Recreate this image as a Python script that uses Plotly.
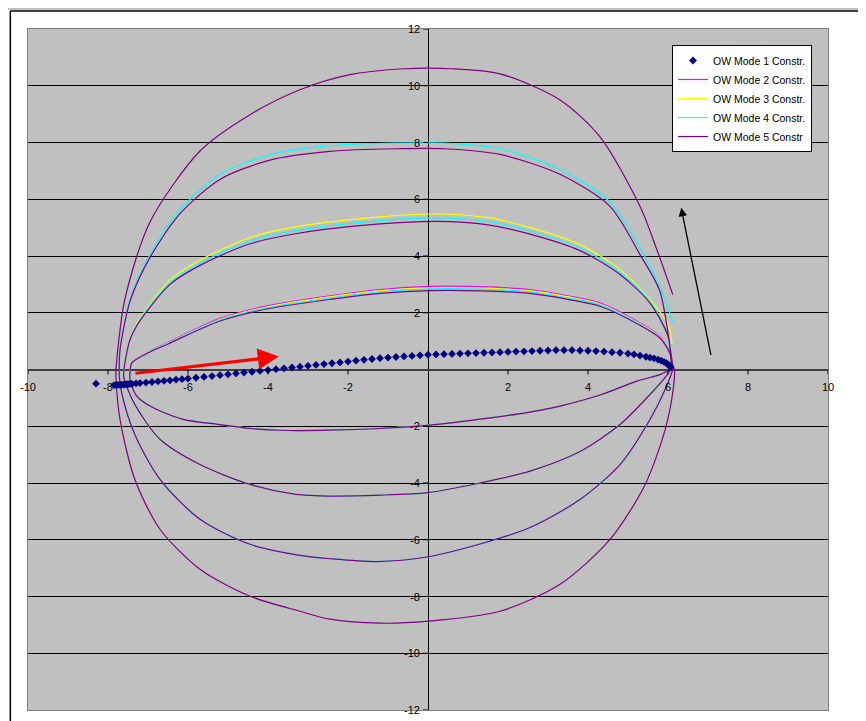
import plotly.graph_objects as go

# ---------------- data ----------------
X_TICKS = [-10, -8, -6, -4, -2, 2, 4, 6, 8, 10]
Y_TICKS = [12, 10, 8, 6, 4, 2, -2, -4, -6, -8, -10, -12]

# Mode 1 (markers)
M1_X = [-8.3, -7.85, -7.8, -7.75, -7.7, -7.65, -7.6, -7.55, -7.5, -7.45, -7.4, -7.3, -7.2,
        -7.05, -6.9, -6.75, -6.6, -6.45, -6.3, -6.15, -6.0, -5.8, -5.6, -5.4, -5.2, -5.0,
        -4.8, -4.6, -4.4, -4.2, -4.0, -3.8, -3.6, -3.4, -3.2, -3.0, -2.8, -2.6, -2.4, -2.2,
        -2.0, -1.8, -1.6, -1.4, -1.2, -1.0, -0.8, -0.6, -0.4, -0.2, 0.0, 0.2, 0.4, 0.6, 0.8,
        1.0, 1.2, 1.4, 1.6, 1.8, 2.0, 2.2, 2.4, 2.6, 2.8, 3.0, 3.2, 3.4, 3.6, 3.8, 4.0, 4.2,
        4.4, 4.6, 4.8, 5.0, 5.15, 5.3, 5.45, 5.55, 5.65, 5.75, 5.83, 5.9, 5.96, 6.0, 6.03,
        6.05, 6.07]
M1_Y = [-0.50, -0.55, -0.55, -0.54, -0.54, -0.53, -0.53, -0.52, -0.52, -0.51, -0.51, -0.49,
        -0.48, -0.46, -0.44, -0.42, -0.40, -0.38, -0.36, -0.34, -0.32, -0.29, -0.26, -0.23,
        -0.20, -0.17, -0.14, -0.11, -0.08, -0.05, -0.02, 0.01, 0.04, 0.07, 0.10, 0.13, 0.16,
        0.19, 0.22, 0.25, 0.28, 0.31, 0.34, 0.37, 0.40, 0.42, 0.44, 0.46, 0.48, 0.50, 0.52,
        0.53, 0.54, 0.55, 0.56, 0.57, 0.58, 0.59, 0.60, 0.61, 0.62, 0.63, 0.64, 0.65, 0.66,
        0.67, 0.68, 0.68, 0.68, 0.67, 0.66, 0.65, 0.63, 0.61, 0.59, 0.56, 0.53, 0.49, 0.45,
        0.42, 0.39, 0.35, 0.31, 0.27, 0.22, 0.18, 0.14, 0.11, 0.08]

# loop 1
BOT1_X = [6.05, 5.8, 5.22, 4.3, 3.3, 2.55, 1.3, 0.0, -1.2, -2.45, -3.5, -4.45, -5.2, -6.12, -6.95, -7.3, -7.45]
BOT1_Y = [0.0, -0.18, -0.41, -0.9, -1.29, -1.5, -1.75, -1.97, -2.08, -2.14, -2.15, -2.08, -1.94, -1.76, -1.29, -0.9, -0.35]
TOP1_X = [-7.45, -7.4, -6.95, -6.5, -5.2, -4.0, -2.45, -1.2, 0.05, 1.3, 2.55, 3.5, 4.3, 5.3, 5.8, 6.05, 6.08]
TOP1_Y_M2 = [-0.1, 0.25, 0.65, 0.95, 1.8, 2.25, 2.6, 2.82, 2.93, 2.92, 2.82, 2.6, 2.35, 1.64, 1.17, 0.59, 0.1]
TOP1_Y_M3 = [-0.1, 0.25, 0.64, 0.93, 1.77, 2.21, 2.56, 2.77, 2.88, 2.87, 2.77, 2.56, 2.31, 1.61, 1.15, 0.58, 0.05]
TOP1_Y_M4 = [-0.1, 0.24, 0.63, 0.92, 1.75, 2.18, 2.52, 2.74, 2.84, 2.83, 2.74, 2.52, 2.28, 1.59, 1.13, 0.57, 0.05]
TOP1_Y_M5 = [-0.1, 0.24, 0.62, 0.9, 1.71, 2.14, 2.47, 2.68, 2.78, 2.77, 2.68, 2.47, 2.23, 1.56, 1.11, 0.56, 0.05]

# loop 2
BOT2_X = [6.08, 5.93, 5.55, 4.8, 3.8, 2.55, 1.3, 0.0, -1.2, -2.45, -3.3, -4.45, -5.7, -6.7, -7.33, -7.6]
BOT2_Y = [0.05, -0.28, -0.88, -1.94, -2.89, -3.58, -4.0, -4.34, -4.43, -4.46, -4.4, -4.05, -3.35, -2.46, -1.23, -0.3]
TOP2_X = [-7.6, -7.45, -7.2, -6.45, -5.7, -4.45, -3.2, -1.2, 0.2, 1.5, 2.55, 3.8, 4.8, 5.55, 6.0, 6.1]
TOP2_Y_M3 = [0.0, 1.1, 1.8, 3.15, 3.85, 4.65, 5.05, 5.38, 5.48, 5.35, 5.0, 4.4, 3.52, 2.46, 1.6, 0.9]
TOP2_Y_M4 = [0.0, 1.07, 1.76, 3.07, 3.75, 4.53, 4.92, 5.25, 5.34, 5.22, 4.88, 4.29, 3.43, 2.4, 1.2, 0.1]
TOP2_Y_M5 = [0.0, 1.05, 1.72, 3.0, 3.67, 4.43, 4.81, 5.13, 5.22, 5.1, 4.77, 4.19, 3.35, 2.34, 1.17, 0.1]

# loop 3
BOT3_X = [6.12, 5.93, 5.55, 4.8, 3.8, 2.55, 1.3, 0.0, -1.28, -2.45, -3.2, -4.45, -5.7, -6.7, -7.33, -7.65, -7.72]
BOT3_Y = [0.05, -0.7, -1.76, -3.35, -4.58, -5.57, -6.15, -6.6, -6.77, -6.67, -6.55, -6.16, -5.28, -3.87, -2.29, -0.88, -0.2]
TOP3_X = [-7.72, -7.7, -7.45, -6.95, -6.2, -5.2, -3.95, -2.45, -0.8, 0.4, 1.8, 3.3, 4.55, 5.3, 5.8, 6.13]
TOP3_Y_M4 = [0.0, 0.7, 2.46, 4.05, 5.63, 6.87, 7.57, 7.89, 7.98, 7.98, 7.78, 7.05, 5.9, 4.28, 2.9, 1.65]
TOP3_Y_M5 = [0.0, 0.68, 2.4, 3.95, 5.49, 6.7, 7.38, 7.69, 7.78, 7.78, 7.58, 6.88, 5.75, 4.05, 2.75, 0.1]

# loop 4 (mode 5 only)
BOT4_X = [6.16, 6.13, 5.93, 5.43, 4.55, 3.3, 1.8, 0.0, -1.2, -2.45, -3.2, -4.45, -5.7, -6.7, -7.33, -7.7, -7.8]
BOT4_Y = [0.0, -0.7, -2.11, -4.05, -5.99, -7.57, -8.52, -8.87, -8.94, -8.8, -8.52, -7.99, -7.04, -5.63, -3.87, -1.76, -0.3]
TOP4_X = [-7.8, -7.58, -6.95, -5.7, -4.45, -3.2, -1.95, -0.6, 0.6, 1.8, 3.3, 4.3, 5.3, 5.72, 6.12]
TOP4_Y = [0.0, 2.46, 5.2, 7.7, 8.98, 9.86, 10.39, 10.6, 10.6, 10.42, 9.5, 8.2, 5.75, 4.23, 2.64]

NAMES = ["OW Mode 1 Constr.", "OW Mode 2 Constr.", "OW Mode 3 Constr.",
         "OW Mode 4 Constr.", "OW Mode 5 Constr"]
COLORS = ["#000080", "#FF00FF", "#FFFF00", "#00FFFF", "#800080"]

# ---------------- series assembly ----------------
mode_x = {
    2: BOT1_X + TOP1_X,
    3: BOT1_X + TOP1_X + BOT2_X + TOP2_X,
    4: BOT1_X + TOP1_X + BOT2_X + TOP2_X + BOT3_X + TOP3_X,
    5: BOT1_X + TOP1_X + BOT2_X + TOP2_X + BOT3_X + TOP3_X + BOT4_X + TOP4_X,
}
mode_y = {
    2: BOT1_Y + TOP1_Y_M2,
    3: BOT1_Y + TOP1_Y_M3 + BOT2_Y + TOP2_Y_M3,
    4: BOT1_Y + TOP1_Y_M4 + BOT2_Y + TOP2_Y_M4 + BOT3_Y + TOP3_Y_M4,
    5: BOT1_Y + TOP1_Y_M5 + BOT2_Y + TOP2_Y_M5 + BOT3_Y + TOP3_Y_M5 + BOT4_Y + TOP4_Y,
}

FONT = "Arial, Liberation Sans, sans-serif"
fig = go.Figure()
for m in [2, 3, 4, 5]:
    fig.add_trace(go.Scatter(
        x=mode_x[m], y=mode_y[m], mode="lines", name=NAMES[m - 1],
        line=dict(color=COLORS[m - 1], width=1.2, shape="spline", smoothing=0.8),
        legendrank=m, hoverinfo="skip"))
fig.add_trace(go.Scatter(
    x=M1_X, y=M1_Y, mode="markers", name=NAMES[0],
    marker=dict(symbol="diamond", size=6, color=COLORS[0]),
    legendrank=1))

annotations = []
for v in X_TICKS:
    annotations.append(dict(x=v, y=0, xref="x", yref="y", text=str(v), showarrow=False,
                            yshift=-17, font=dict(family=FONT, size=11, color="black")))
for v in Y_TICKS:
    annotations.append(dict(x=0, y=v, xref="x", yref="y", text=str(v), showarrow=False,
                            xanchor="right", xshift=-6,
                            font=dict(family=FONT, size=11, color="black")))
# arrows
annotations.append(dict(x=-3.73, y=0.46, ax=-7.35, ay=-0.14, xref="x", yref="y",
                        axref="x", ayref="y", showarrow=True, arrowhead=2, arrowsize=1.4,
                        arrowwidth=3, arrowcolor="#FF0000", text="", standoff=0))
annotations.append(dict(x=6.33, y=5.7, ax=7.08, ay=0.46, xref="x", yref="y",
                        axref="x", ayref="y", showarrow=True, arrowhead=2, arrowsize=1.3,
                        arrowwidth=1.3, arrowcolor="black", text="", standoff=0))

shapes = []
for v in X_TICKS:
    shapes.append(dict(type="line", xref="x", yref="y", x0=v, x1=v, ysizemode="pixel",
                       yanchor=0, y0=0, y1=-5, line=dict(color="black", width=1)))
for v in Y_TICKS:
    shapes.append(dict(type="line", xref="x", yref="y", y0=v, y1=v, xsizemode="pixel",
                       xanchor=0, x0=-5, x1=0, line=dict(color="black", width=1)))
# chart-area frame (outside plot area)
shapes.append(dict(type="line", xref="paper", yref="paper", x0=-0.035, x1=1.05,
                   y0=1.0294, y1=1.0294, line=dict(color="#808080", width=1)))
shapes.append(dict(type="line", xref="paper", yref="paper", x0=-0.0221, x1=1.05,
                   y0=1.0264, y1=1.0264, line=dict(color="black", width=1.5)))
shapes.append(dict(type="line", xref="paper", yref="paper", x0=-0.0221, x1=-0.0221,
                   y0=-0.02, y1=1.0264, line=dict(color="black", width=1.5)))

# The page body has an 8px default margin, so the figure is 8px smaller.
fig.update_layout(
    width=858, height=713,
    margin=dict(l=20, r=38, t=21, b=11),
    paper_bgcolor="white", plot_bgcolor="#C0C0C0",
    font=dict(family=FONT, size=11, color="black"),
    xaxis=dict(range=[-10, 10], showgrid=False, zeroline=True, zerolinecolor="black",
               zerolinewidth=1, showline=True, mirror=True, linecolor="#808080",
               linewidth=1, showticklabels=False, ticks="", fixedrange=True),
    yaxis=dict(range=[-12, 12], tick0=0, dtick=2, showgrid=True, gridcolor="black",
               gridwidth=1, zeroline=True, zerolinecolor="#404040", zerolinewidth=1.5,
               showline=True, mirror=True, linecolor="#808080", linewidth=1,
               showticklabels=False, ticks="", fixedrange=True),
    legend=dict(x=0.98, xanchor="right", y=0.9765, yanchor="top", bgcolor="white",
                bordercolor="black", borderwidth=1, itemwidth=30, tracegroupgap=0,
                font=dict(family=FONT, size=10.5, color="black")),
    annotations=annotations, shapes=shapes, showlegend=True,
)

fig.write_html("out.html")
